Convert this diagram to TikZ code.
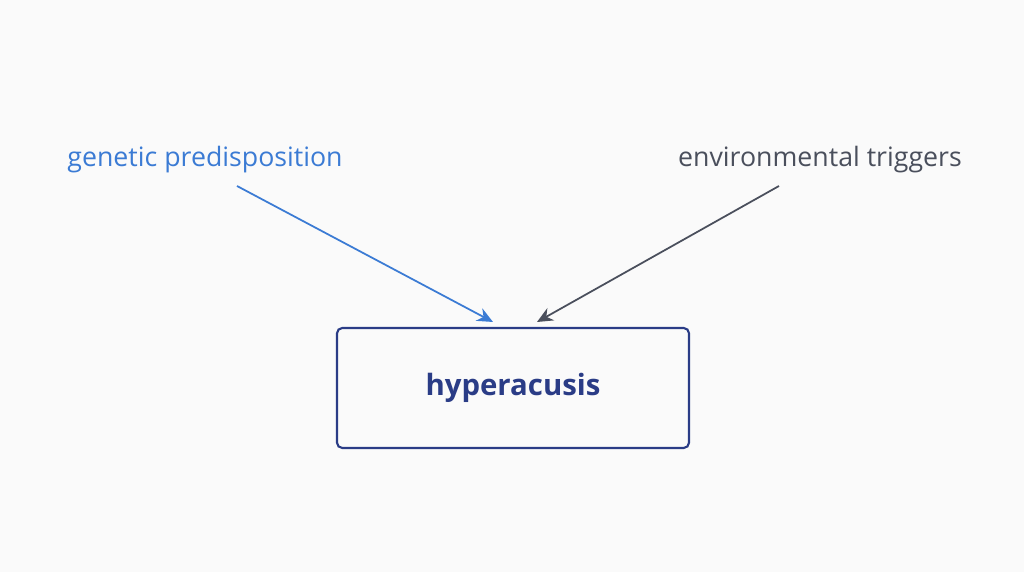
\documentclass[tikz,border=0pt]{standalone}
\usepackage{fontspec}
\setmainfont{Open Sans}
\usetikzlibrary{arrows.meta}
\definecolor{bgc}{HTML}{FAFAFA}
\definecolor{genblue}{HTML}{3B7BD4}
\definecolor{envgray}{HTML}{4A4F5C}
\definecolor{navy}{HTML}{2A3C86}
\tikzstyle{cause} = [font=\fontsize{15.2}{18}\selectfont, inner sep=0pt]
\tikzstyle{target} = [draw=navy, line width=1.2pt, rounded corners=3pt,
                      minimum width=7.04cm, minimum height=2.4cm,
                      text=navy, font=\fontsize{16.7}{20}\selectfont\bfseries]
\begin{document}
\begin{tikzpicture}
  \fill[bgc] (0,0) rectangle (20.48,11.44);
  \useasboundingbox (0,0) rectangle (20.48,11.44);
  \node[target] at (10.26,3.68) (hyp) {hyperacusis};
  \node[cause, text=genblue] at (4.10,8.24) (gen) {genetic predisposition};
  \node[cause, text=envgray] at (16.40,8.24) (env) {environmental triggers};
  \coordinate (genstart) at (4.74,7.72);
  \coordinate (envstart) at (15.58,7.72);
  \coordinate (genend) at (9.86,5.00);
  \coordinate (envend) at (10.74,5.00);

  \draw[-{Stealth[length=9pt,width=8pt]}, genblue, line width=1pt] (genstart) -- (genend);
  \draw[-{Stealth[length=9pt,width=8pt]}, envgray, line width=1pt] (envstart) -- (envend);
\end{tikzpicture}
\end{document}
